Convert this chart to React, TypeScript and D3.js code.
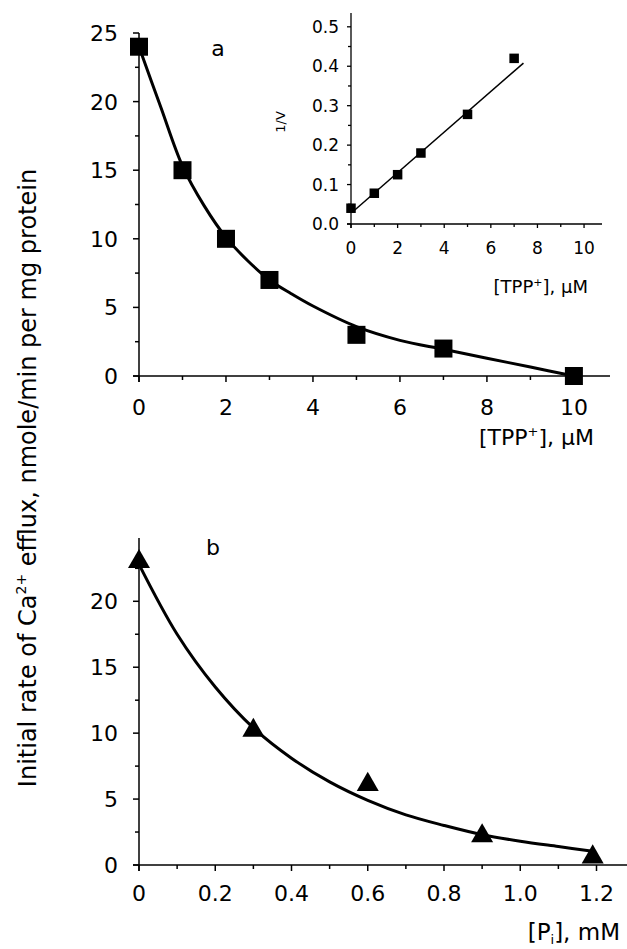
import * as d3 from 'd3';

// panel a: rate vs TPP+
const topX = [0, 1, 2, 3, 5, 7, 10];
const topY = [24, 15, 10, 7, 3, 2, 0];
const topFitX = [0, 0.5, 1, 1.5, 2, 2.5, 3, 3.5, 4, 5, 6, 7, 8, 9, 10];
const topFitY = [24, 19.6, 15.3, 12.4, 10.1, 8.4, 7.0, 6.0, 5.1, 3.6, 2.6, 1.95, 1.3, 0.65, 0];
const topXTicks = [0, 2, 4, 6, 8, 10];
const topYTicks = [0, 5, 10, 15, 20, 25];

// inset: 1/V vs TPP+
const insetX = [0, 1, 2, 3, 5, 7];
const insetY = [0.04, 0.078, 0.125, 0.18, 0.278, 0.42];
const insetFitX = [0.15, 7.4];
const insetFitY = [0.035, 0.408];
const insetXTicks = [0, 2, 4, 6, 8, 10];
const insetYTicks = [0, 0.1, 0.2, 0.3, 0.4, 0.5];

// panel b: rate vs Pi
const botX = [0, 0.3, 0.6, 0.9, 1.19];
const botY = [23, 10.2, 6.1, 2.2, 0.6];
const botFitX = [0, 0.1, 0.2, 0.3, 0.4, 0.5, 0.6, 0.7, 0.8, 0.9, 1.0, 1.1, 1.19];
const botFitY = [22.8, 17.5, 13.5, 10.4, 8.1, 6.3, 4.9, 3.8, 3.0, 2.3, 1.8, 1.4, 1.05];
const botXTicks = [0, 0.2, 0.4, 0.6, 0.8, 1.0, 1.2];
const botXLabels = ['0', '0.2', '0.4', '0.6', '0.8', '1.0', '1.2'];
const botYTicks = [0, 5, 10, 15, 20];

const font = 'DejaVu Sans, Verdana, sans-serif';

type AxisProps = {
  x: d3.ScaleLinear<number, number>;
  y: d3.ScaleLinear<number, number>;
  xTicks: number[];
  xLabels?: string[];
  xMinor: number[];
  yTicks: number[];
  yLabels?: string[];
  yMinor: number[];
  fontSize: number;
  major: number;
  minor: number;
  xLabelOffset: number;
  yLabelGap: number;
  stroke: number;
};

function Axes(p: AxisProps) {
  const [x0, x1] = p.x.range();
  const [y0, y1] = p.y.range();
  return (
    <g fontFamily={font} fontSize={p.fontSize} fill="#000">
      <line x1={x0 - p.major} x2={x1} y1={y0} y2={y0} stroke="#000" strokeWidth={p.stroke} />
      <line x1={x0} x2={x0} y1={y0 + p.major} y2={y1} stroke="#000" strokeWidth={p.stroke} />
      {p.xTicks.map((t) => (
        <line key={'xt' + t} x1={p.x(t)} x2={p.x(t)} y1={y0} y2={y0 + p.major} stroke="#000" strokeWidth={p.stroke} />
      ))}
      {p.xMinor.map((t) => (
        <line key={'xm' + t} x1={p.x(t)} x2={p.x(t)} y1={y0} y2={y0 + p.minor} stroke="#000" strokeWidth={p.stroke} />
      ))}
      {p.yTicks.map((t) => (
        <line key={'yt' + t} x1={x0 - p.major} x2={x0} y1={p.y(t)} y2={p.y(t)} stroke="#000" strokeWidth={p.stroke} />
      ))}
      {p.yMinor.map((t) => (
        <line key={'ym' + t} x1={x0 - p.minor} x2={x0} y1={p.y(t)} y2={p.y(t)} stroke="#000" strokeWidth={p.stroke} />
      ))}
      {p.xTicks.map((t, i) => (
        <text key={'xl' + t} x={p.x(t)} y={y0 + p.xLabelOffset} textAnchor="middle">
          {p.xLabels ? p.xLabels[i] : String(t)}
        </text>
      ))}
      {p.yTicks.map((t, i) => (
        <text key={'yl' + t} x={x0 - p.yLabelGap} y={p.y(t)} dy="0.36em" textAnchor="end">
          {p.yLabels ? p.yLabels[i] : String(t)}
        </text>
      ))}
    </g>
  );
}

export default function App() {
  // panel a scales
  const ax = d3.scaleLinear().domain([0, 10.83]).range([139, 610]);
  const ay = d3.scaleLinear().domain([0, 25]).range([376, 33]);
  // inset scales
  const ix = d3.scaleLinear().domain([0, 10.77]).range([351, 602]);
  const iy = d3.scaleLinear().domain([0, 0.535]).range([224, 13]);
  // panel b scales
  const bx = d3.scaleLinear().domain([0, 1.28]).range([139, 627]);
  const by = d3.scaleLinear().domain([0, 24.8]).range([865, 538]);

  const curve = (xs: number[], ys: number[], sx: any, sy: any) =>
    d3
      .line<number>()
      .x((d, i) => sx(xs[i]))
      .y((d, i) => sy(ys[i]))
      .curve(d3.curveCatmullRom.alpha(0.5))(ys) || '';

  const sq = 18;
  const isq = 9.5;
  const tri = d3.symbol(d3.symbolTriangle, 210)() || '';

  return (
    <svg width={627} height={949} style={{ position: 'absolute', left: 0, top: 0, background: '#fff' }}>
      {/* panel a */}
      <Axes
        x={ax}
        y={ay}
        xTicks={topXTicks}
        xMinor={[1, 3, 5, 7, 9]}
        yTicks={topYTicks}
        yMinor={[2.5, 7.5, 12.5, 17.5, 22.5]}
        fontSize={22}
        major={6}
        minor={4}
        xLabelOffset={39}
        yLabelGap={21}
        stroke={1.5}
      />
      <path d={curve(topFitX, topFitY, ax, ay)} fill="none" stroke="#000" strokeWidth={3} />
      {topX.map((v, i) => (
        <rect key={'a' + i} x={ax(v) - sq / 2} y={ay(topY[i]) - sq / 2} width={sq} height={sq} fill="#000" />
      ))}
      <text x={218} y={48} dy="0.36em" textAnchor="middle" fontFamily={font} fontSize={22}>a</text>
      <text x={594} y={445} textAnchor="end" fontFamily={font} fontSize={22}>
        [TPP<tspan fontSize={13} dy={-9}>+</tspan><tspan dy={9}>], μM</tspan>
      </text>

      {/* inset */}
      <Axes
        x={ix}
        y={iy}
        xTicks={insetXTicks}
        xMinor={[1, 3, 5, 7, 9]}
        yTicks={insetYTicks}
        yLabels={['0.0', '0.1', '0.2', '0.3', '0.4', '0.5']}
        yMinor={[0.05, 0.15, 0.25, 0.35, 0.45]}
        fontSize={17}
        major={4}
        minor={3}
        xLabelOffset={30}
        yLabelGap={12}
        stroke={1.3}
      />
      <path d={curve(insetFitX, insetFitY, ix, iy)} fill="none" stroke="#000" strokeWidth={1.5} />
      {insetX.map((v, i) => (
        <rect key={'i' + i} x={ix(v) - isq / 2} y={iy(insetY[i]) - isq / 2} width={isq} height={isq} fill="#000" />
      ))}
      <text transform="translate(285,122) rotate(-90)" textAnchor="middle" fontFamily={font} fontSize={13}>1/V</text>
      <text x={588} y={293} textAnchor="end" fontFamily={font} fontSize={18}>
        [TPP<tspan fontSize={11} dy={-7}>+</tspan><tspan dy={7}>], μM</tspan>
      </text>

      {/* panel b */}
      <Axes
        x={bx}
        y={by}
        xTicks={botXTicks}
        xLabels={botXLabels}
        xMinor={[0.1, 0.3, 0.5, 0.7, 0.9, 1.1]}
        yTicks={botYTicks}
        yMinor={[2.5, 7.5, 12.5, 17.5, 22.5]}
        fontSize={22}
        major={6}
        minor={4}
        xLabelOffset={36}
        yLabelGap={21}
        stroke={1.5}
      />
      <path d={curve(botFitX, botFitY, bx, by)} fill="none" stroke="#000" strokeWidth={3} />
      {botX.map((v, i) => (
        <path key={'b' + i} d={tri} transform={`translate(${bx(v)},${by(botY[i])})`} fill="#000" />
      ))}
      <text x={213} y={547} dy="0.36em" textAnchor="middle" fontFamily={font} fontSize={22}>b</text>
      <text x={620} y={940} textAnchor="end" fontFamily={font} fontSize={23}>
        [P<tspan fontSize={13} dy={4}>i</tspan><tspan dy={-4}>], mM</tspan>
      </text>

      {/* shared y label */}
      <text transform="translate(36,478) rotate(-90)" textAnchor="middle" fontFamily={font} fontSize={24}>
        Initial rate of Ca<tspan fontSize={14} dy={-10}>2+</tspan>
        <tspan dy={10}> efflux, nmole/min per mg protein</tspan>
      </text>
    </svg>
  );
}
